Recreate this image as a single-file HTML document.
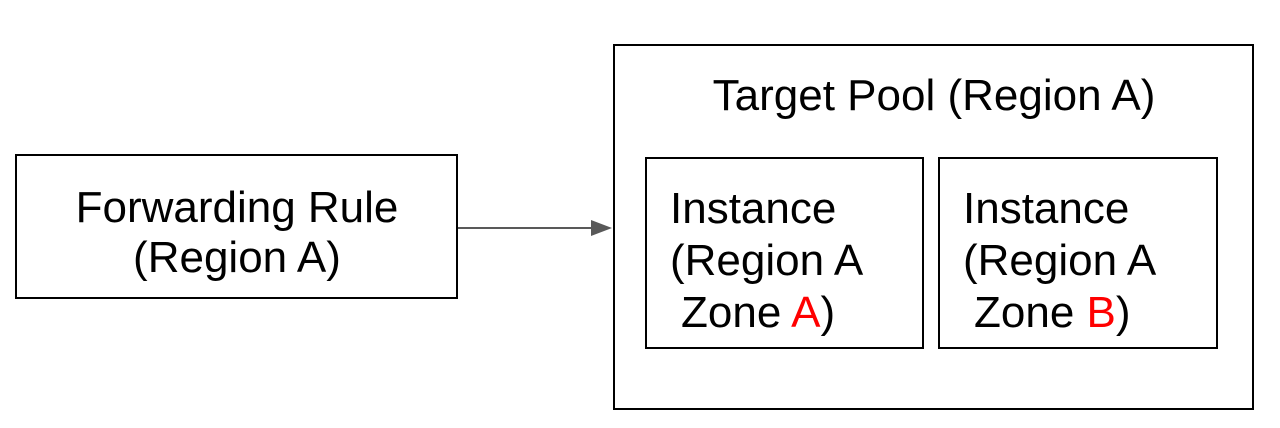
<!DOCTYPE html>
<html><head><meta charset="utf-8"><style>
html,body{margin:0;padding:0;background:#fff;width:1280px;height:428px;overflow:hidden}
text{font-family:"Liberation Sans",Arial,sans-serif;font-size:44px;fill:#000}
</style></head><body>
<svg width="1280" height="428" viewBox="0 0 1280 428">
<g>
<rect x="16" y="155" width="441" height="143" fill="#fff" stroke="#000" stroke-width="2"/>
<text x="237" y="222" text-anchor="middle">Forwarding Rule</text>
<text x="237" y="272" text-anchor="middle">(Region A)</text>
</g>
<g>
<line x1="458" y1="228" x2="594" y2="228" stroke="#595959" stroke-width="2"/>
<polygon points="591,220 612,228 591,236" fill="#595959"/>
</g>
<g>
<rect x="614" y="45" width="639" height="364" fill="none" stroke="#000" stroke-width="2"/>
<text x="934" y="110" text-anchor="middle">Target Pool (Region A)</text>
</g>
<g>
<rect x="646" y="158" width="277" height="190" fill="none" stroke="#000" stroke-width="2"/>
<text x="670" y="223">Instance</text>
<text x="670" y="275">(Region A</text>
<text x="670" y="327"> <tspan x="681">Zone </tspan><tspan fill="#ff0000">A</tspan>)</text>
</g>
<g>
<rect x="939" y="158" width="278" height="190" fill="none" stroke="#000" stroke-width="2"/>
<text x="963" y="223">Instance</text>
<text x="963" y="275">(Region A</text>
<text x="963" y="327"><tspan x="974">Zone </tspan><tspan fill="#ff0000">B</tspan>)</text>
</g>
</svg>
</body></html>
